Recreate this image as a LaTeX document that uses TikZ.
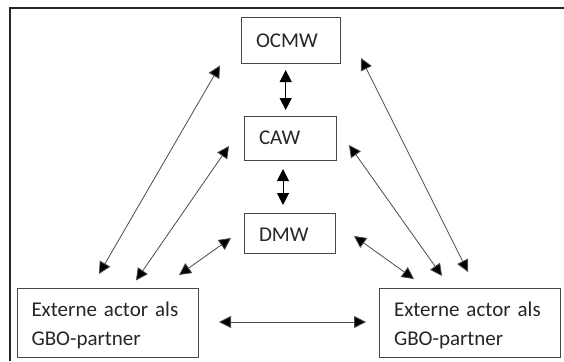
\documentclass[tikz,border=0pt]{standalone}
\usepackage{fontspec}
\setmainfont{Carlito}
\usetikzlibrary{arrows.meta,calc}
\tikzset{
  box/.style={draw=black!72,line width=1pt,fill=white,anchor=north west,inner xsep=14.5pt,inner ysep=0pt,align=left,font=\fontsize{21}{29}\selectfont,text=black!85},
  frameline/.style={draw=black!85,line width=1.6pt},
  link/.style={draw=black!70,line width=0.8pt,{Triangle[length=12pt,width=12pt,fill=black]}-{Triangle[length=12pt,width=12pt,fill=black]}},
  vlink/.style={link,draw=black,line width=1pt}
}
\begin{document}
\begin{tikzpicture}[x=1pt,y=-1pt]
\useasboundingbox (0,0) rectangle (564,361);
\fill[white] (0,0) rectangle (564,361);
\coordinate (fb) at (10,361);
\coordinate (fc) at (10,8);
\coordinate (fr) at (564,8);
\draw[frameline] (fb) -- (fc) -- (fr);
\node[box,text width=70pt,minimum height=45pt] (ocmw) at (241,17.5) {OCMW};
\node[box,text width=63pt,minimum height=44.5pt] (caw) at (244,115.5) {CAW};
\node[box,text width=62pt,minimum height=40.5pt] (dmw) at (244,212.5) {\rule{0pt}{16pt}DMW};
\node[box,text width=152pt,minimum height=69pt] (exta) at (16.5,288) {\rule{0pt}{20pt}Externe actor als\\GBO-partner};
\node[box,text width=152pt,minimum height=69pt] (extb) at (379,288) {\rule{0pt}{20pt}Externe actor als\\GBO-partner};
\draw[vlink] ($(ocmw.south west)+(44.7,6.5)$) -- ($(caw.north west)+(41.7,-5.5)$);
\draw[vlink] ($(caw.south west)+(39,8)$) -- ($(dmw.north west)+(39,-7.5)$);
\draw[link] ($(ocmw.south west)+(-21,2)$) -- ($(exta.north west)+(82.5,-14)$);
\draw[link] ($(caw.south west)+(-15,-15)$) -- ($(exta.north west)+(119.5,-7.5)$);
\draw[link] ($(dmw.south west)+(-13,-16)$) -- ($(exta.north east)+(-19.5,-13)$);
\draw[link] ($(exta.east)+(20.5,-1)$) -- ($(extb.west)+(-13,-1)$);
\draw[link] ($(ocmw.south east)+(20,-5.5)$) -- ($(extb.north west)+(89,-16)$);
\draw[link] ($(caw.south east)+(12,-16)$) -- ($(extb.north west)+(63,-12)$);
\draw[link] ($(dmw.south east)+(18,-18)$) -- ($(extb.north west)+(35,-9)$);
\end{tikzpicture}
\end{document}
